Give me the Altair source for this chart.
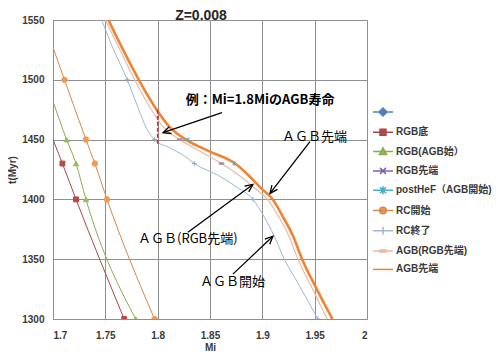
import math
import altair as alt
import pandas as pd

# ---------------- data ----------------
SERIES = [" ", "RGB底", "RGB(AGB始）", "RGB先端", "postHeF（AGB開始)",
          "RC開始", "RC終了", "AGB(RGB先端)", "AGB先端"]

# line data (Mi, t)
rgb_bottom_mi = [1.700, 1.709, 1.722, 1.768]
rgb_bottom_t = [1450, 1430, 1400, 1300]

rgb_agb_mi = [1.700, 1.713, 1.722, 1.7315, 1.779]
rgb_agb_t = [1482, 1450, 1430, 1400, 1300]

rc_start_mi = [1.700, 1.711, 1.7315, 1.740, 1.7516, 1.797]
rc_start_t = [1527, 1500, 1450, 1430, 1400, 1300]

rc_end_t = [1550, 1525, 1500, 1475, 1460, 1450, 1443, 1436, 1430, 1420, 1410,
            1400, 1385, 1370, 1350, 1330, 1300]
rc_end_mi = [1.7465, 1.758, 1.771, 1.782, 1.789, 1.797, 1.812, 1.826, 1.835,
             1.858, 1.876, 1.891, 1.902, 1.911, 1.921, 1.934, 1.953]

agb_rgb_t = [1550, 1525, 1500, 1475, 1460, 1450, 1440, 1430, 1420, 1410, 1400,
             1385, 1370, 1350, 1325, 1300]
agb_rgb_mi = [1.750, 1.764, 1.778, 1.794, 1.806, 1.821, 1.841, 1.861, 1.878,
              1.892, 1.905, 1.916, 1.925, 1.934, 1.948, 1.962]

agb_tip_t = [1550, 1525, 1500, 1475, 1460, 1450, 1440, 1430, 1420, 1410, 1400,
             1385, 1370, 1350, 1325, 1300]
agb_tip_mi = [1.753, 1.767, 1.782, 1.799, 1.812, 1.827, 1.850, 1.874, 1.887,
              1.898, 1.910, 1.920, 1.929, 1.938, 1.952, 1.967]

# marker data (Mi, t)
rgb_bottom_mk_mi = [1.709, 1.722, 1.768]
rgb_bottom_mk_t = [1430, 1400, 1300]
rgb_agb_mk_mi = [1.713, 1.722, 1.7315, 1.779]
rgb_agb_mk_t = [1450, 1430, 1400, 1300]
rc_start_mk_mi = [1.711, 1.7315, 1.740, 1.7516, 1.797]
rc_start_mk_t = [1500, 1450, 1430, 1400, 1300]
rc_end_mk_mi = [1.771, 1.797, 1.835, 1.891, 1.953]
rc_end_mk_t = [1500, 1450, 1430, 1400, 1300]
agb_rgb_mk_mi = [1.821, 1.861]
agb_rgb_mk_t = [1450, 1430]
posthef_mk_mi = [1.829, 1.873]
posthef_mk_t = [1450, 1430]

# example range at Mi = 1.8
example_mi = [1.8]
example_t_top = [1475]
example_t_bottom = [1446]

# annotations
note_text = ["例：Mi=1.8MiのAGB寿命", "ＡＧＢ先端", "ＡＧＢ(RGB先端)", "ＡＧＢ開始"]
note_mi = [1.8268, 1.9187, 1.7812, 1.8404]
note_t = [1483.0, 1452.5, 1366.7, 1330.8]
arrow_from_mi = [1.8614, 1.9455, 1.8289, 1.8719]
arrow_from_t = [1472.5, 1448.3, 1372.5, 1337.5]
arrow_to_mi = [1.8051, 1.9073, 1.8910, 1.9101]
arrow_to_t = [1455.8, 1405.0, 1412.5, 1369.2]

x_ticks = [1.7, 1.75, 1.8, 1.85, 1.9, 1.95, 2.0]
y_ticks = [1300, 1350, 1400, 1450, 1500, 1550]

# ---------------- styles ----------------
LINE_COLORS = ["#4F81BD", "#A94848", "#8DAA52", "#8064A2", "#4BACC6",
               "#D08A4E", "#9FB6D8", "#E8BBA6", "#EE8434"]
MARKER_COLORS = ["#4F81BD", "#B84A48", "#9BBB59", "#8064A2", "#4BACC6",
                 "#F29A55", "#8FA8CF", "#A98BB0", "#EE8434"]
LINE_WIDTHS = [1.2, 1.0, 1.0, 1.0, 1.0, 1.0, 1.0, 1.2, 2.6]
MARKER_SHAPES = ["diamond", "square", "triangle-up",
                 "M-1,-1L1,1M-1,1L1,-1",
                 "M-1,-1L1,1M-1,1L1,-1M0,-1.2V1.2",
                 "circle",
                 "M0,-1V1M-1,0H1",
                 "M-1,-0.3H1V0.3H-1Z",
                 "circle"]
MARKER_SIZES = [25, 24, 28, 18, 14, 30, 25, 22, 20]

LINE = "M-1,0H1"
LEGEND_GLYPHS = [
    "M0,-0.4L0.4,0L0,0.4L-0.4,0Z",
    "M-0.3,-0.3H0.3V0.3H-0.3Z",
    "M0,-0.38L0.36,0.28H-0.36Z",
    "M-0.3,-0.3L0.3,0.3M-0.3,0.3L0.3,-0.3",
    "M-0.3,-0.3L0.3,0.3M-0.3,0.3L0.3,-0.3M0,-0.4V0.4",
    "M-0.33,0A0.33,0.33,0,1,0,0.33,0A0.33,0.33,0,1,0,-0.33,0Z",
    "M0,-0.4V0.4",
    "M-0.3,-0.1H0.3V0.1H-0.3Z",
    "",
]
LEGEND_SHAPES = [LINE + g for g in LEGEND_GLYPHS]
LEGEND_WIDTHS = [1.5, 1.5, 1.5, 1.5, 1.5, 1.5, 1.5, 1.5, 2.6]

FONT = "Liberation Sans, Noto Sans CJK JP, sans-serif"
JFONT = "Noto Sans CJK JP, sans-serif"
GRID = "#8f8f8f"
TXT = "#3a3a3a"

style = {s: i for i, s in enumerate(SERIES)}

# ---------------- tables ----------------
line_sets = [
    ("RGB底", rgb_bottom_mi, rgb_bottom_t),
    ("RGB(AGB始）", rgb_agb_mi, rgb_agb_t),
    ("RC開始", rc_start_mi, rc_start_t),
    ("RC終了", rc_end_mi, rc_end_t),
    ("AGB(RGB先端)", agb_rgb_mi, agb_rgb_t),
    ("AGB先端", agb_tip_mi, agb_tip_t),
]
lines_df = pd.DataFrame([
    {"series": s, "mi": m, "t": t,
     "lc": LINE_COLORS[style[s]], "lw": LINE_WIDTHS[style[s]]}
    for s, ms, ts in line_sets for m, t in zip(ms, ts)
])

marker_sets = [
    ("RGB底", rgb_bottom_mk_mi, rgb_bottom_mk_t),
    ("RGB(AGB始）", rgb_agb_mk_mi, rgb_agb_mk_t),
    ("RC開始", rc_start_mk_mi, rc_start_mk_t),
    ("RC終了", rc_end_mk_mi, rc_end_mk_t),
    ("AGB(RGB先端)", agb_rgb_mk_mi, agb_rgb_mk_t),
    ("postHeF（AGB開始)", posthef_mk_mi, posthef_mk_t),
]
markers_df = pd.DataFrame([
    {"series": s, "mi": m, "t": t,
     "mc": MARKER_COLORS[style[s]], "ms": MARKER_SHAPES[style[s]],
     "sz": MARKER_SIZES[style[s]]}
    for s, ms, ts in marker_sets for m, t in zip(ms, ts)
])

W, H = 314, 299
PX_X = W / (x_ticks[-1] - x_ticks[0])
PX_Y = H / (y_ticks[-1] - y_ticks[0])
angles = []
for fm, ft, tm, tt in zip(arrow_from_mi, arrow_from_t, arrow_to_mi, arrow_to_t):
    dx = (tm - fm) * PX_X
    dy = -(tt - ft) * PX_Y
    angles.append(math.degrees(math.atan2(dx, -dy)) % 360)

arrows_df = pd.DataFrame({
    "fm": arrow_from_mi, "ft": arrow_from_t,
    "tm": arrow_to_mi, "tt": arrow_to_t, "angle": angles,
})
notes_df = pd.DataFrame({"text": note_text, "mi": note_mi, "t": note_t,
                         "bold": [True, False, False, False]})
example_df = pd.DataFrame({"mi": example_mi, "t1": example_t_top,
                           "t2": example_t_bottom})

# ---------------- encodings ----------------
x_axis = alt.Axis(values=x_ticks, format=".2~f", title="Mi", grid=True,
                  gridColor=GRID, domainColor=GRID, ticks=False, tickSize=0,
                  labelPadding=11, titlePadding=2, labelFont=FONT,
                  labelFontSize=10, labelFontWeight="bold", labelColor=TXT,
                  titleFont=FONT, titleFontSize=10, titleFontWeight="bold",
                  titleColor=TXT)
y_axis = alt.Axis(values=y_ticks, format="d", title="t(Myr)", grid=True,
                  gridColor=GRID, domainColor=GRID, ticks=False, tickSize=0,
                  labelPadding=9, titlePadding=4, labelFont=FONT,
                  labelFontSize=10, labelFontWeight="bold", labelColor=TXT,
                  titleFont=FONT, titleFontSize=10, titleFontWeight="bold",
                  titleColor=TXT)
xs = alt.Scale(domain=[x_ticks[0], x_ticks[-1]], nice=False, zero=False)
ys = alt.Scale(domain=[y_ticks[0], y_ticks[-1]], nice=False, zero=False)


def X(f):
    return alt.X(f"{f}:Q", scale=xs, axis=x_axis)


def Y(f):
    return alt.Y(f"{f}:Q", scale=ys, axis=y_axis)


def legend():
    return alt.Legend(
        orient="none", legendX=319, legendY=81, title=None, padding=0,
        rowPadding=2.3, symbolSize=400, labelOffset=2, labelFont=FONT,
        labelFontSize=10, labelFontWeight="bold", labelColor=TXT,
        labelLimit=200, symbolOpacity=1)


lines = alt.Chart(lines_df).mark_line(interpolate="monotone", clip=True).encode(
    x=X("mi"), y=Y("t"),
    color=alt.Color("lc:N", scale=None),
    strokeWidth=alt.StrokeWidth("lw:Q", scale=None),
    detail="series:N",
)

markers = alt.Chart(markers_df).mark_point(filled=True, opacity=1, strokeWidth=1,
                                           clip=True).encode(
    x=X("mi"), y=Y("t"),
    shape=alt.Shape("ms:N", scale=None),
    fill=alt.Fill("mc:N", scale=None),
    stroke=alt.Stroke("mc:N", scale=None),
    size=alt.Size("sz:Q", scale=None),
)

legend_layer = alt.Chart(markers_df).transform_filter("false").mark_point(
    filled=True, opacity=1, size=400).encode(
    x=X("mi"), y=Y("t"),
    shape=alt.Shape("series:N", scale=alt.Scale(domain=SERIES, range=LEGEND_SHAPES),
                    legend=legend()),
    fill=alt.Fill("series:N", scale=alt.Scale(domain=SERIES, range=MARKER_COLORS),
                  legend=legend()),
    stroke=alt.Stroke("series:N", scale=alt.Scale(domain=SERIES, range=LINE_COLORS),
                      legend=legend()),
    strokeWidth=alt.StrokeWidth("series:N",
                                scale=alt.Scale(domain=SERIES, range=LEGEND_WIDTHS),
                                legend=legend()),
)

example = alt.Chart(example_df).mark_rule(color="#E0283A", strokeWidth=1.6,
                                          strokeDash=[4, 2]).encode(
    x=X("mi"), y=Y("t1"), y2="t2")

shafts = alt.Chart(arrows_df).mark_rule(color="black", strokeWidth=1.3).encode(
    x=X("fm"), y=Y("ft"), x2="tm", y2="tt")
heads = alt.Chart(arrows_df).mark_point(
    shape="M-0.5,1.1L0,0L0.5,1.1", filled=False, color="black",
    strokeWidth=1.3, size=200, opacity=1).encode(
    x=X("tm"), y=Y("tt"), angle=alt.Angle("angle:Q", scale=None))

note_bold = alt.Chart(notes_df).transform_filter("datum.bold").mark_text(
    align="left", baseline="middle", font=JFONT, fontSize=13,
    fontWeight="bold", color="black").encode(x=X("mi"), y=Y("t"), text="text:N")
note_plain = alt.Chart(notes_df).transform_filter("!datum.bold").mark_text(
    align="left", baseline="middle", font=JFONT, fontSize=13,
    color="black").encode(x=X("mi"), y=Y("t"), text="text:N")

chart = alt.layer(lines, markers, legend_layer, example, shafts, heads,
                  note_bold, note_plain).properties(
    width=W, height=H,
    title=alt.TitleParams("Z=0.008", font=FONT, fontSize=14, fontWeight="bold",
                          color="#262626", anchor="middle", frame="group",
                          offset=-8, dx=-9),
    padding={"left": 45, "top": 12, "right": 125, "bottom": 34},
    autosize=alt.AutoSizeParams(type="none"),
).configure_view(stroke=GRID).configure(background="white")

chart.save("out.html", embed_options={"renderer": "svg", "actions": False})
